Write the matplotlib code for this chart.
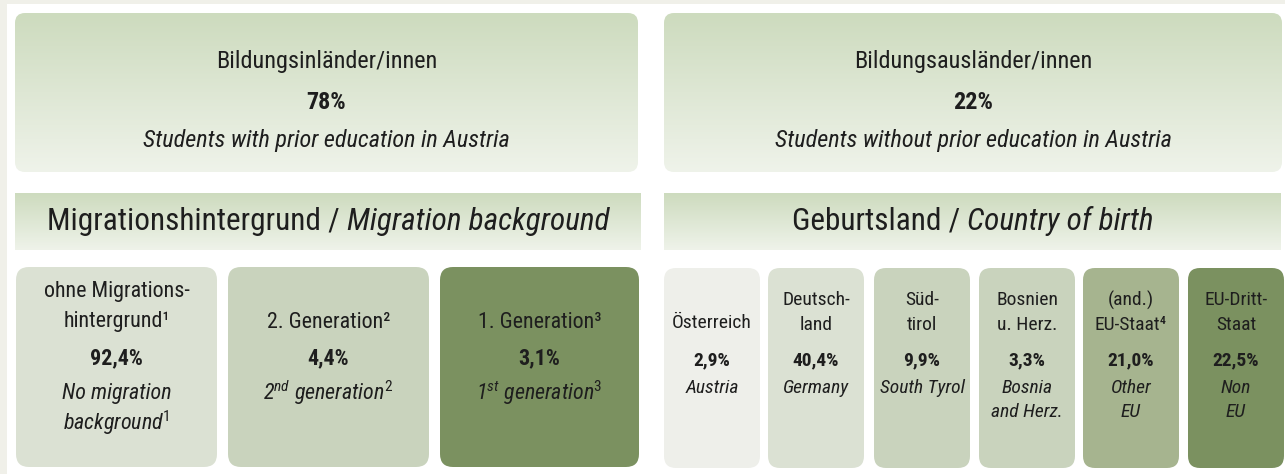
import numpy as np
import matplotlib
matplotlib.use("Agg")
import matplotlib.pyplot as plt
from matplotlib import font_manager
from matplotlib.patches import FancyBboxPatch, Rectangle
from matplotlib.colors import LinearSegmentedColormap

# data
top_labels_de = ["Bildungsinländer/innen", "Bildungsausländer/innen"]
top_shares = [78, 22]
top_labels_en = ["Students with prior education in Austria",
                 "Students without prior education in Austria"]

section_titles = [("Migrationshintergrund / ", "Migration background"),
                  ("Geburtsland / ", "Country of birth")]

mig_labels_de = [["ohne Migrations-", "hintergrund¹"], ["2. Generation²"], ["1. Generation³"]]
mig_shares = [92.4, 4.4, 3.1]
mig_labels_en = [["No migration", r"background$^{\mathit{1}}$"],
                 [r"2$^{\mathit{nd}}$ generation$^{\mathit{2}}$"],
                 [r"1$^{\mathit{st}}$ generation$^{\mathit{3}}$"]]
mig_colors = ["#dbe1d3", "#c9d3bd", "#7b9160"]

country_labels_de = [["Österreich"], ["Deutsch-", "land"], ["Süd-", "tirol"],
                     ["Bosnien", "u. Herz."], ["(and.)", "EU-Staat⁴"], ["EU-Dritt-", "Staat"]]
country_shares = [2.9, 40.4, 9.9, 3.3, 21.0, 22.5]
country_labels_en = [["Austria"], ["Germany"], ["South Tyrol"], ["Bosnia", "and Herz."],
                     ["Other", "EU"], ["Non", "EU"]]
country_colors = ["#eeefea", "#dbe1d3", "#c9d3bd", "#c9d3bd", "#a6b48f", "#7b9160"]

# font: pick a condensed family if there is one
installed = {f.name for f in font_manager.fontManager.ttflist}
font = "DejaVu Sans"
for cand in ["Liberation Sans Narrow", "Roboto Condensed", "DejaVu Sans"]:
    if cand in installed:
        font = cand
        break
plt.rcParams["font.family"] = [font, "DejaVu Sans"]
plt.rcParams["mathtext.fontset"] = "custom"
plt.rcParams["mathtext.rm"] = font
plt.rcParams["mathtext.it"] = font + ":italic"
plt.rcParams["mathtext.bf"] = font + ":bold"

TXT = "#1e1e1e"


def pct(v, dec=True):
    if dec:
        return f"{v:.1f}".replace(".", ",") + "%"
    return f"{v}%"


fig = plt.figure(figsize=(12.85, 4.74), dpi=100)
fig.patch.set_facecolor("#f0f0e9")
ax = fig.add_axes([0, 0, 1, 1])
ax.set_xlim(0, 1285)
ax.set_ylim(474, 0)
ax.axis("off")

ax.add_patch(Rectangle((7, 4), 1285, 480, facecolor="white", edgecolor="none", zorder=0))

grad = LinearSegmentedColormap.from_list("g", ["#cddbbe", "#eff3ea"])


def gradient_box(x0, y0, x1, y1, radius):
    if radius > 0:
        clip = FancyBboxPatch((x0, y0), x1 - x0, y1 - y0,
                              boxstyle=f"round,pad=0,rounding_size={radius}",
                              facecolor="none", edgecolor="none")
    else:
        clip = Rectangle((x0, y0), x1 - x0, y1 - y0, facecolor="none", edgecolor="none")
    ax.add_patch(clip)
    im = ax.imshow(np.linspace(0, 1, 256)[:, None], cmap=grad, aspect="auto",
                   extent=(x0, x1, y1, y0), origin="upper", zorder=1)
    im.set_clip_path(clip)


def solid_box(x0, y0, x1, y1, color, radius):
    ax.add_patch(FancyBboxPatch((x0, y0), x1 - x0, y1 - y0,
                                boxstyle=f"round,pad=0,rounding_size={radius}",
                                facecolor=color, edgecolor="none", zorder=1))


def put(x, y, s, size, **kw):
    ax.text(x, y, s, ha="center", va="center", fontsize=size, color=TXT, zorder=3, **kw)


# top boxes
top_x = [(15, 638), (664, 1282)]
for (x0, x1), de, share, en in zip(top_x, top_labels_de, top_shares, top_labels_en):
    gradient_box(x0, 13, x1, 172, 10)
    cx = (x0 + x1) / 2
    put(cx, 61, de, 17.5)
    put(cx, 102, pct(share, False), 17.5, fontweight="bold")
    put(cx, 140, en, 17.5, fontstyle="italic")

# section headers
head_x = [(15, 641), (664, 1281)]
r = fig.canvas.get_renderer()
for (x0, x1), (de, en) in zip(head_x, section_titles):
    gradient_box(x0, 193, x1, 250, 0)
    cx = (x0 + x1) / 2
    t1 = ax.text(0, 0, de, fontsize=22.5)
    t2 = ax.text(0, 0, en, fontsize=22.5, fontstyle="italic")
    w1 = t1.get_window_extent(r).width
    w2 = t2.get_window_extent(r).width
    t1.remove()
    t2.remove()
    left = cx - (w1 + w2) / 2
    ax.text(left, 221, de, ha="left", va="center", fontsize=22.5, color=TXT, zorder=3)
    ax.text(left + w1, 221, en, ha="left", va="center", fontsize=22.5, color=TXT,
            fontstyle="italic", zorder=3)

# migration background boxes
mig_x = [(16, 217), (228, 429), (440, 639)]
for (x0, x1), de, share, en, col in zip(mig_x, mig_labels_de, mig_shares, mig_labels_en, mig_colors):
    solid_box(x0, 267, x1, 467, col, 13)
    cx = (x0 + x1) / 2
    de_y = [292, 322] if len(de) == 2 else [322]
    for y, s in zip(de_y, de):
        put(cx, y, s, 15.8)
    put(cx, 358, pct(share), 15.8, fontweight="bold")
    for y, s in zip([393, 423], en):
        put(cx, y, s, 15.8, fontstyle="italic")

# country of birth boxes
cx0 = [664, 768, 874, 979, 1083, 1188]
cw = 96
for x0, de, share, en, col in zip(cx0, country_labels_de, country_shares, country_labels_en, country_colors):
    solid_box(x0, 268, x0 + cw, 468, col, 12)
    cx = x0 + cw / 2
    de_y = [300, 325] if len(de) == 2 else [323]
    for y, s in zip(de_y, de):
        put(cx, y, s, 14)
    put(cx, 360, pct(share), 14, fontweight="bold")
    for y, s in zip([388, 412], en):
        put(cx, y, s, 14, fontstyle="italic")

fig.savefig("out.png", dpi=100, facecolor=fig.get_facecolor())
